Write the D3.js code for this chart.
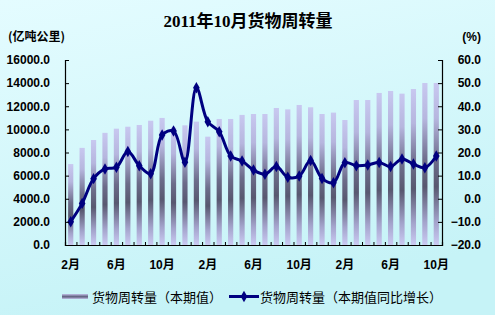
<!DOCTYPE html>
<html>
<head>
<meta charset="utf-8">
<script src="https://cdn.jsdelivr.net/npm/d3@7"></script>
<style>
body { margin: 0; padding: 0; }
svg { display: block; }
</style>
</head>
<body>
<script>
// months Feb 2009 .. Oct 2011
var months = ["2009-02","2009-03","2009-04","2009-05","2009-06","2009-07","2009-08","2009-09","2009-10","2009-11","2009-12",
	"2010-01","2010-02","2010-03","2010-04","2010-05","2010-06","2010-07","2010-08","2010-09","2010-10","2010-11","2010-12",
	"2011-01","2011-02","2011-03","2011-04","2011-05","2011-06","2011-07","2011-08","2011-09","2011-10"];
// 亿吨公里
var volume = [7000, 8400, 9080, 9700, 10060, 10230, 10380, 10750, 10990, 10150, 10350,
	10670, 9370, 10900, 10900, 11250, 11330, 11330, 11850, 11730, 12110, 11910, 11330,
	11450, 10810, 12540, 12540, 13150, 13320, 13090, 13490, 14010, 14010];
// %
var growth = [-9.9, -2.0, 8.7, 12.9, 13.6, 20.4, 14.3, 10.8, 27.6, 29.3, 15.8,
	48.0, 33.3, 29.0, 18.5, 16.3, 12.4, 10.6, 13.9, 9.3, 9.8, 16.5, 8.8,
	6.9, 15.6, 14.3, 14.6, 15.7, 13.9, 17.2, 15.0, 13.4, 18.5];
var leftTicks = [0, 2000, 4000, 6000, 8000, 10000, 12000, 14000, 16000];
var rightTicks = [-20, -10, 0, 10, 20, 30, 40, 50, 60];
var xLabels = {"2009-02":"2月","2009-06":"6月","2009-10":"10月","2010-02":"2月","2010-06":"6月","2010-10":"10月","2011-02":"2月","2011-06":"6月","2011-10":"10月"};

var W = 495, H = 315;
var plotL = 65, plotR = 442, plotT = 60, plotB = 245;

var svg = d3.select("body").append("svg")
	.attr("width", W)
	.attr("height", H);

var defs = svg.append("defs");
var bg = defs.append("linearGradient").attr("id", "bg")
	.attr("x1", 0).attr("y1", 0).attr("x2", 0.3).attr("y2", 1);
bg.append("stop").attr("offset", "0%").attr("stop-color", "#e4fcff");
bg.append("stop").attr("offset", "100%").attr("stop-color", "#c6f3f7");

var bar = defs.append("linearGradient").attr("id", "bar")
	.attr("x1", 0).attr("y1", 0).attr("x2", 0).attr("y2", 1);
bar.append("stop").attr("offset", "0%").attr("stop-color", "#c8c8f0");
bar.append("stop").attr("offset", "22%").attr("stop-color", "#b6b6de");
bar.append("stop").attr("offset", "48%").attr("stop-color", "#6c6c8a");
bar.append("stop").attr("offset", "64%").attr("stop-color", "#585870");
bar.append("stop").attr("offset", "86%").attr("stop-color", "#a4a4cc");
bar.append("stop").attr("offset", "100%").attr("stop-color", "#cacaf2");

var legBar = defs.append("linearGradient").attr("id", "legbar")
	.attr("x1", 0).attr("y1", 0).attr("x2", 0).attr("y2", 1);
legBar.append("stop").attr("offset", "0%").attr("stop-color", "#c0c0e8");
legBar.append("stop").attr("offset", "55%").attr("stop-color", "#5e5e7c");
legBar.append("stop").attr("offset", "100%").attr("stop-color", "#c0c0e8");

svg.append("rect").attr("width", W).attr("height", H).attr("fill", "url(#bg)");

// scales
var x = d3.scaleBand().domain(months).range([plotL, plotR]).padding(0);
var xl = d3.scaleLinear().domain([0, months.length]).range([plotL, plotR]);
var yL = d3.scaleLinear().domain([0, 16000]).range([plotB, plotT]);
var yR = d3.scaleLinear().domain([-20, 60]).range([plotB, plotT]);

var barW = 5.2;
svg.selectAll(".bar").data(volume)
	.enter().append("rect")
	.attr("class", "bar")
	.attr("x", function(d, i) { return x(months[i]) + x.bandwidth() / 2 - barW / 2; })
	.attr("width", barW)
	.attr("y", function(d) { return yL(d); })
	.attr("height", function(d) { return plotB - yL(d); })
	.attr("fill", "url(#bar)");

// line
var line = d3.line()
	.x(function(d, i) { return x(months[i]) + x.bandwidth() / 2; })
	.y(function(d) { return yR(d); })
	.curve(d3.curveCatmullRom.alpha(0.5));

svg.append("path").datum(growth)
	.attr("d", line)
	.attr("fill", "none")
	.attr("stroke", "#000080")
	.attr("stroke-width", 3)
	.attr("stroke-linejoin", "round");

var diamond = d3.symbol().type(d3.symbolDiamond).size(38);
svg.selectAll(".pt").data(growth)
	.enter().append("path")
	.attr("class", "pt")
	.attr("d", diamond)
	.attr("transform", function(d, i) { return "translate(" + (x(months[i]) + x.bandwidth() / 2) + "," + yR(d) + ")"; })
	.attr("fill", "#000080");

// axes
var tickFont = "'Liberation Sans', Arial, sans-serif";

var gL = svg.append("g")
	.attr("transform", "translate(" + plotL + ",0)")
	.call(d3.axisLeft(yL).tickValues(leftTicks).tickSize(-4).tickPadding(15).tickFormat(d3.format(".1f")));
var gR = svg.append("g")
	.attr("transform", "translate(" + plotR + ",0)")
	.call(d3.axisRight(yR).tickValues(rightTicks).tickSize(-4).tickPadding(0).tickFormat(d3.format(".1f")));
gR.selectAll("text").attr("text-anchor", "end").attr("x", 39);

var gB = svg.append("g")
	.attr("transform", "translate(0," + plotB + ")")
	.call(d3.axisBottom(xl).tickValues(d3.range(months.length + 1)).tickSize(-3).tickFormat(""));

var gX = svg.append("g")
	.attr("transform", "translate(0," + plotB + ")")
	.call(d3.axisBottom(x).tickValues(Object.keys(xLabels)).tickSize(0).tickPadding(15)
		.tickFormat(function(d) { return xLabels[d]; }));
gX.select(".domain").remove();

[gL, gR, gB, gX].forEach(function(g) {
	g.select(".domain").attr("stroke", "#000").attr("stroke-width", 1.2);
	g.selectAll("line").attr("stroke", "#000");
	g.selectAll("text")
		.attr("fill", "#000")
		.style("font-family", tickFont + ", 'Noto Sans CJK SC'")
		.style("font-size", "12px")
		.style("font-weight", "bold");
});

// titles
svg.append("text")
	.attr("x", 248).attr("y", 27)
	.attr("text-anchor", "middle")
	.style("font-family", "'Liberation Serif', 'Noto Sans CJK SC', serif")
	.style("font-size", "17px")
	.style("font-weight", "bold")
	.text("2011年10月货物周转量");

svg.append("text")
	.attr("x", 8).attr("y", 41)
	.style("font-family", "'Noto Sans CJK SC', sans-serif")
	.style("font-size", "12px")
	.style("font-weight", "bold")
	.text("(亿吨公里)");

svg.append("text")
	.attr("x", 481).attr("y", 41)
	.attr("text-anchor", "end")
	.style("font-family", tickFont)
	.style("font-size", "12px")
	.style("font-weight", "bold")
	.text("(%)");

// legend
var legFont = "'Noto Sans CJK SC', sans-serif";
svg.append("rect")
	.attr("x", 62).attr("y", 294).attr("width", 26).attr("height", 5)
	.attr("fill", "url(#legbar)");
svg.append("text")
	.attr("x", 92).attr("y", 302)
	.style("font-family", legFont)
	.style("font-size", "13px")
	.text("货物周转量（本期值）");

svg.append("line")
	.attr("x1", 229).attr("x2", 259).attr("y1", 296.5).attr("y2", 296.5)
	.attr("stroke", "#000080").attr("stroke-width", 3);
svg.append("path")
	.attr("d", diamond)
	.attr("transform", "translate(244,296.5)")
	.attr("fill", "#000080");
svg.append("text")
	.attr("x", 260).attr("y", 302)
	.style("font-family", legFont)
	.style("font-size", "13px")
	.text("货物周转量（本期值同比增长）");
</script>
</body>
</html>
